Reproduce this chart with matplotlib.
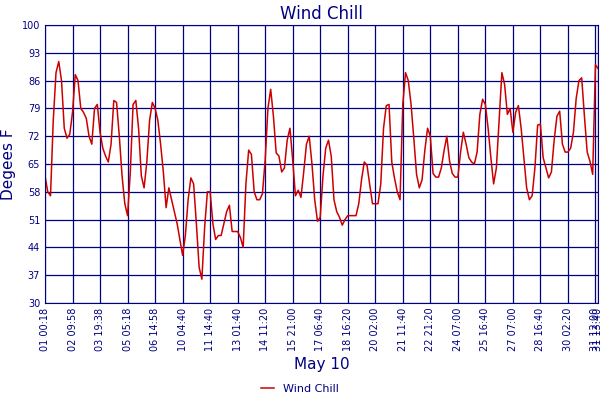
import matplotlib
matplotlib.use("Agg")
import matplotlib.pyplot as plt
import numpy as np

tick_labels = ["01 00:18", "02 09:58", "03 19:38", "05 05:18", "06 14:58", "10 04:40",
               "11 14:40", "13 01:40", "14 11:20", "15 21:00", "17 06:40", "18 16:20",
               "20 02:00", "21 11:40", "22 21:20", "24 07:00", "25 16:40", "27 07:00",
               "28 16:40", "30 02:20", "31 12:00", "31 13:40"]
tick_positions = list(range(0, 201, 10)) + [201]

wind_chill = [
    62, 58, 57, 76, 88, 90.8, 86, 74, 71.5, 72.5,
    78, 87.5, 86, 79, 78, 76.5, 72, 70, 79, 80,
    73, 69, 67, 65.5, 70, 81, 80.5, 72, 62, 55,
    52, 63, 80, 81, 74, 62, 59, 65.5, 76, 80.5,
    79, 76, 70, 63, 54, 59, 56, 53, 50, 46,
    42, 47, 56, 61.5, 60, 50, 39, 36, 49, 58,
    58, 50, 46, 47, 47, 50, 53, 54.6, 48, 48,
    48, 46.5, 44, 60, 68.5, 67.4, 58, 56, 56, 57.5,
    66, 79, 83.8, 77, 67.8, 67, 63, 64, 71, 74,
    66, 57, 58.4, 56.6, 63, 70, 72, 65, 56, 50.6,
    51.6, 62, 69, 71, 67, 56, 53, 51.6, 49.6, 51,
    52, 52, 52, 52, 55, 61, 65.5, 64.7, 59.7, 55,
    55, 55, 60, 74, 79.7, 80, 65.5, 61.4, 58, 56,
    80, 88, 86, 80, 71.5, 62.4, 59, 61, 68.4, 74,
    72, 62.6, 61.7, 61.7, 64, 68.4, 72, 65.7, 62.6, 61.7,
    61.7, 68, 73, 70, 66.6, 65.5, 65, 68, 77.5, 81.3,
    80, 74, 66.6, 60, 64, 76, 88, 85, 77.5, 79,
    73, 78, 79.7, 74, 66.6, 59, 56, 57, 64, 74.8,
    75, 66.6, 64, 61.5, 63, 71, 77, 78.3, 70, 68,
    68, 69, 73, 81.5, 86, 86.7, 77, 68, 65.7, 62.4,
    90, 89,
]

navy = "#000080"
fig = plt.figure(figsize=(6, 4), dpi=100)
ax = fig.add_axes([0.075, 0.2425, 0.922, 0.695])
ax.plot(range(len(wind_chill)), wind_chill, color="#CC0000", lw=1.1, label="Wind Chill")
ax.set_xlim(0, 201)
ax.set_ylim(30, 100)
ax.set_yticks(range(30, 101, 7))
ax.set_xticks(tick_positions)
ax.set_xticklabels(tick_labels, rotation=90, fontsize=7, color=navy)
ax.tick_params(axis="y", labelsize=7, colors=navy, length=0)
ax.tick_params(axis="x", length=0, colors=navy)
ax.grid(True, color=navy, lw=0.9)
for s in ax.spines.values():
    s.set_color(navy)
ax.set_title("Wind Chill", color=navy, fontsize=12, pad=4)
ax.set_ylabel("Degees F", color=navy, fontsize=11)
ax.set_xlabel("May 10", color=navy, fontsize=11)
fig.legend(loc="lower center", bbox_to_anchor=(0.5, -0.01), frameon=False, fontsize=8,
           labelcolor=navy, handlelength=1.2)
fig.savefig("out.png", dpi=100)
